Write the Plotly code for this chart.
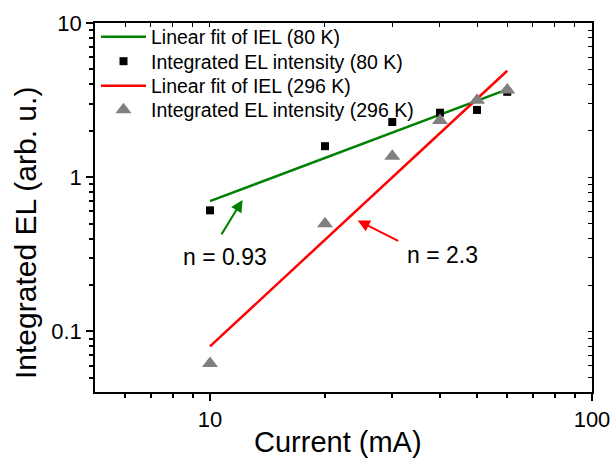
import plotly.graph_objects as go
import numpy as np

# Data
current = [10, 20, 30, 40, 50, 60]
iel_80K = [0.61, 1.59, 2.28, 2.62, 2.73, 3.58]
iel_296K = [0.062, 0.50, 1.37, 2.33, 3.16, 3.68]
fit_x = [10, 60]
fit_80K = [0.70, 3.71]
fit_296K = [0.080, 4.9]

x_ticks = [10, 100]
x_tick_labels = ["10", "100"]
y_ticks = [0.1, 1, 10]
y_tick_labels = ["0.1", "1", "10"]

FONT = "Arial, Liberation Sans, sans-serif"
x_minor = [6, 7, 8, 9, 20, 30, 40, 50, 60, 70, 80, 90]
y_minor = [0.05, 0.06, 0.07, 0.08, 0.09, 0.2, 0.3, 0.4, 0.5, 0.6, 0.7, 0.8, 0.9,
           2, 3, 4, 5, 6, 7, 8, 9]
x_range = [np.log10(5), 2]
y_range = [np.log10(0.0405), 1]

W, H = 613, 461
ML, MR, MT, MB = 95, 21, 23, 69
PW, PH = W - ML - MR, H - MT - MB

fig = go.Figure()
fig.add_trace(go.Scatter(x=fit_x, y=fit_80K, mode="lines", name="Linear fit of IEL (80 K)",
                         line=dict(color="#008000", width=2.5), legend="legend"))
fig.add_trace(go.Scatter(x=current, y=iel_80K, mode="markers", name="Integrated EL intensity (80 K)",
                         marker=dict(symbol="square", color="black", size=8), legend="legend2"))
fig.add_trace(go.Scatter(x=fit_x, y=fit_296K, mode="lines", name="Linear fit of IEL (296 K)",
                         line=dict(color="#ff0000", width=2.5), legend="legend3"))
fig.add_trace(go.Scatter(x=current, y=iel_296K, mode="markers", name="Integrated EL intensity (296 K)",
                         marker=dict(symbol="triangle-up", color="#808080", size=14), legend="legend4"))
# dummy trace for mirrored axes
fig.add_trace(go.Scatter(x=[10], y=[1], xaxis="x2", yaxis="y2", mode="markers",
                         marker=dict(opacity=0), showlegend=False, hoverinfo="skip"))

axis_common = dict(type="log", showgrid=False, zeroline=False, showline=True,
                   linecolor="black", linewidth=1.5, ticks="outside", ticklen=7,
                   tickwidth=1.5, tickcolor="black", automargin=False,
                   tickfont=dict(family=FONT, size=22, color="black"))

def legend_at(py):
    # py: pixel y of item centre
    return dict(x=(96 - ML) / PW, y=1 - (py - MT) / PH,
                xanchor="left", yanchor="middle", bgcolor="rgba(0,0,0,0)",
                font=dict(family=FONT, size=19.5, color="black"), itemwidth=45)

fig.update_layout(
    width=W, height=H,
    margin=dict(l=ML, r=MR, t=MT, b=MB),
    plot_bgcolor="white", paper_bgcolor="white",
    font=dict(family=FONT, color="black"),
    xaxis=dict(**axis_common, range=x_range, tickmode="array", tickvals=x_ticks,
               ticktext=x_tick_labels,
               minor=dict(tickmode="array", tickvals=x_minor, ticks="outside", ticklen=4,
                          tickwidth=1.5, tickcolor="black", showgrid=False)),
    yaxis=dict(**axis_common, range=y_range, tickmode="array", tickvals=y_ticks,
               ticktext=y_tick_labels,
               minor=dict(tickmode="array", tickvals=y_minor, ticks="outside", ticklen=4,
                          tickwidth=1.5, tickcolor="black", showgrid=False)),
    xaxis2=dict(type="log", overlaying="x", side="top", anchor="y", range=x_range,
                showgrid=False, zeroline=False, showline=True, linecolor="black", linewidth=1.5,
                ticks="inside", ticklen=4, tickwidth=1, tickcolor="black", showticklabels=False,
                tickmode="array", tickvals=x_ticks + x_minor, automargin=False),
    yaxis2=dict(type="log", overlaying="y", side="right", anchor="x", range=y_range,
                showgrid=False, zeroline=False, showline=True, linecolor="black", linewidth=1.5,
                ticks="inside", ticklen=4, tickwidth=1, tickcolor="black", showticklabels=False,
                tickmode="array", tickvals=y_ticks + y_minor, automargin=False),
    legend=legend_at(37),
    legend2=legend_at(61.5),
    legend3=legend_at(86),
    legend4=legend_at(110),
    showlegend=True,
)

# axis titles
fig.add_annotation(text="Current (mA)", xref="paper", yref="paper",
                   x=(338 - ML) / PW, y=-(442 - MT - PH) / PH, showarrow=False,
                   xanchor="center", yanchor="middle",
                   font=dict(family=FONT, size=29, color="black"))
fig.add_annotation(text="Integrated EL (arb. u.)", xref="paper", yref="paper", textangle=-90,
                   x=(25 - ML) / PW, y=1 - (233 - MT) / PH, showarrow=False,
                   xanchor="center", yanchor="middle",
                   font=dict(family=FONT, size=30, color="black"))

# arrows
fig.add_annotation(x=np.log10(12.17), y=np.log10(0.713), xref="x", yref="y",
                   ax=-22, ay=36, axref="pixel", ayref="pixel", showarrow=True,
                   arrowhead=2, arrowsize=1.2, arrowwidth=2, arrowcolor="#008000", text="")
fig.add_annotation(x=np.log10(24.36), y=np.log10(0.5236), xref="x", yref="y",
                   ax=42, ay=21, axref="pixel", ayref="pixel", showarrow=True,
                   arrowhead=2, arrowsize=1.2, arrowwidth=2, arrowcolor="#ff0000", text="")
# labels
fig.add_annotation(x=np.log10(10.93), y=np.log10(0.305), xref="x", yref="y", showarrow=False,
                   text="n = 0.93", font=dict(family=FONT, size=23, color="black"))
fig.add_annotation(x=np.log10(40.55), y=np.log10(0.314), xref="x", yref="y", showarrow=False,
                   text="n = 2.3", font=dict(family=FONT, size=23, color="black"))

fig.write_html("out.html")
